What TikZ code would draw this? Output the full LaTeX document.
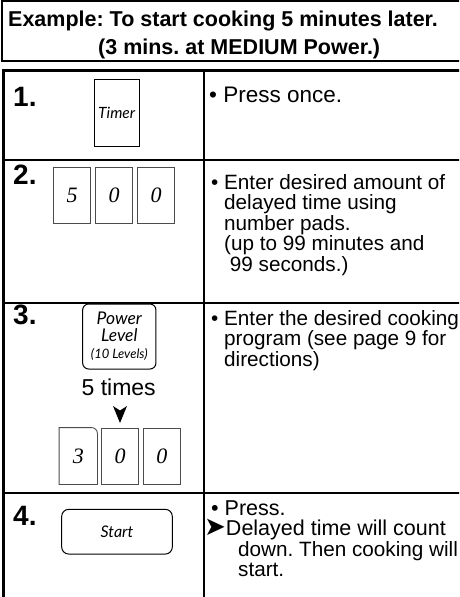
\documentclass[tikz,border=0pt]{standalone}
\usepackage{fontspec}
\setmainfont{Liberation Sans}
\newfontfamily\padfont{Liberation Serif}
\newfontfamily\keyfont{Lato}
\newfontfamily\symfont{DejaVu Sans}
\frenchspacing
\begin{document}
\begin{tikzpicture}[x=1pt,y=-1pt,
		txt/.style={anchor=base west,inner sep=0pt,font=\fontsize{20.7}{20.7}\selectfont},
		num/.style={anchor=base west,inner sep=0pt,font=\fontsize{28}{28}\selectfont\bfseries},
		head/.style={anchor=base west,inner sep=0pt,font=\fontsize{21.5}{21.5}\selectfont\bfseries},
		key/.style={draw,line width=1pt,inner sep=0pt},
		digit/.style={draw=black!70,line width=0.9pt,minimum width=37.4pt,minimum height=56pt,inner sep=0pt,
			font=\fontsize{22}{22}\selectfont\padfont\itshape}]
		\useasboundingbox(0,0)rectangle(459,597);
		\clip(0,0)rectangle(459,597);
		\pgfmathsetmacro{\lead}{20.5}
		\def\SayLines#1#2#3{
			\foreach \l[count=\i] in {#3}{
				\node[txt](#1\i)at(224,{#2+\lead*\i}){\l};
			}
		}
		\draw[line width=1.5pt](2,1)rectangle(480,61);
		\node[head](head1)at(8,26.5){Example: To start cooking 5 minutes later.};
		\node[head](head2)at(98,54){(3 mins. at MEDIUM Power.)};
		\draw[line width=3pt](3.5,640)--(3.5,70.5)--(480,70.5);
		\foreach \y in {160,303,493}{
			\draw[line width=1.5pt](3.5,\y)--(480,\y);
		}
		\draw[line width=1.5pt](204,70.5)--(204,640);
		\foreach \n/\y in {1/106,2/184,3/324,4/525}{
			\node[num](step\n)at(13,\y){\n.};
		}

		\node[key,minimum width=44.7pt,minimum height=67.4pt,
			font=\keyfont\itshape\fontsize{15.5}{15.5}\selectfont](timer)at(116.7,113){Timer};
		\node[txt,font=\fontsize{22.5}{22.5}\selectfont](press1)at(209,102.5){• Press once.};

		\foreach \d[count=\i] in {5,0,0}{
			\node[digit](delay\i)at({30+42*\i},195.3){\d};
		}
		\node[txt](enter2)at(211,189){• Enter desired amount of};
		\SayLines{enter2l}{189}{delayed time using,number pads.,{(up to 99 minutes and},\ 99 seconds.)}

		\node[key,minimum width=73.3pt,minimum height=65pt,rounded corners=6pt,align=center,
			font=\keyfont\itshape\fontsize{17.5}{17}\selectfont](power)at(119.3,336.5)
			{Power\\Level\\{\fontsize{13}{13}\selectfont(10 Levels)}};
		\node[anchor=base,inner sep=0pt,font=\fontsize{23}{23}\selectfont](times)at(118.7,395){5 times};
		\fill(113,406)--(120,410.5)--(127,406)--(120,423)--cycle;
		\node[digit,draw=none](cook1)at(78.3,456){3};
		\draw[black!70,line width=0.9pt](cook1.south west)--(cook1.north west)
			--([xshift=-6pt]cook1.north east)arc[start angle=90,end angle=0,radius=6pt]
			--(cook1.south east)--cycle;
		\foreach \d[count=\i from 2] in {0,0}{
			\node[digit,minimum width=37pt](cook\i)at({36.5+41.8*\i},456){\d};
		}
		\node[txt](enter3)at(211,325){• Enter the desired cooking};
		\SayLines{enter3l}{325}{program (see page 9 for,directions)}

		\node[key,minimum width=110.6pt,minimum height=44.7pt,rounded corners=7pt,
			font=\keyfont\itshape\fontsize{16}{16}\selectfont](start)at(117,531.7){Start};
		\node[txt,font=\fontsize{21.5}{21.5}\selectfont](press4)at(211,515){• Press.};
		\node[txt,font=\fontsize{21.5}{21.5}\selectfont](count4)at(204,535.5)
			{{\symfont\fontsize{26}{26}\selectfont ➤}Delayed time will count};
		\node[txt](count4b)at(238,556){down. Then cooking will};
		\node[txt](count4c)at(238,576.5){start.};
	\end{tikzpicture}
\end{document}
